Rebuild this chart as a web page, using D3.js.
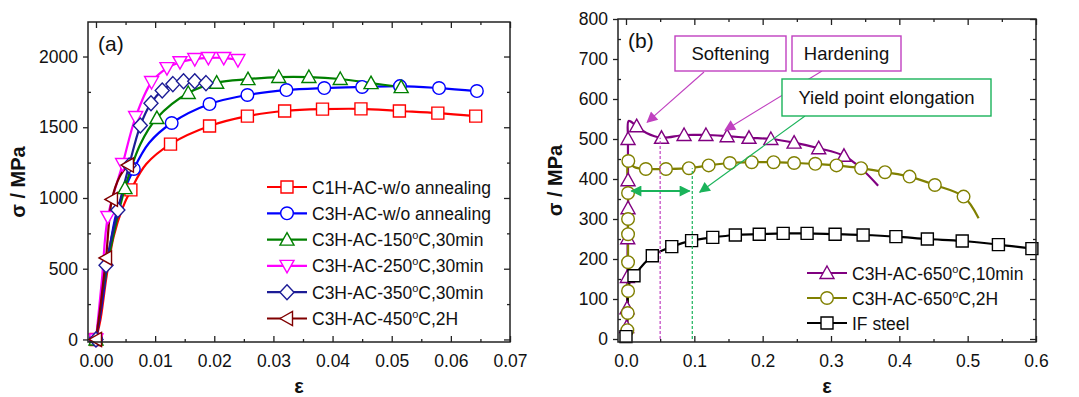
<!DOCTYPE html>
<html>
<head>
<meta charset="utf-8">
<script src="https://cdn.jsdelivr.net/npm/d3@7"></script>
<style>
  body { margin: 0; background: #fff; }
  text { font-family: "Liberation Sans", Arial, sans-serif; }
</style>
</head>
<body>
<svg id="chart" width="1079" height="397"></svg>
<script>
// ---- panel (a) data: [strain, stress MPa, marker?]
var c1hNoAnneal = [[0,0,1],[0.0008,150,0],[0.0018,450,0],[0.003,730,0],[0.0045,930,0],[0.0059,1057,1],[0.0085,1240,0],
  [0.0126,1381,1],[0.0192,1509,1],[0.0256,1579,1],[0.0319,1615,1],[0.0383,1628,1],[0.0448,1630,1],[0.0513,1615,1],[0.0578,1600,1],[0.0642,1579,1]];
var c3hNoAnneal = [[0,0,1],[0.001,250,0],[0.002,550,0],[0.0035,900,0],[0.0064,1205,1],[0.009,1390,0],[0.0128,1530,1],
  [0.0192,1664,1],[0.0256,1728,1],[0.0322,1763,1],[0.0386,1777,1],[0.045,1785,1],[0.0514,1791,1],[0.058,1777,1],[0.0644,1756,1]];
var c3h150 = [[0,0,1],[0.001,300,0],[0.0025,650,0],[0.0049,1070,1],[0.0075,1380,0],[0.0103,1565,1],[0.0156,1742,1],
  [0.0204,1815,1],[0.0257,1840,1],[0.0309,1855,1],[0.036,1855,1],[0.0413,1841,1],[0.0465,1812,1],[0.0516,1784,1]];
var c3h250 = [[0,0,1],[0.001,420,0],[0.002,866,1],[0.0045,1240,1],[0.0067,1572,1],[0.0094,1820,1],[0.012,1918,1],
  [0.0142,1960,1],[0.0167,1982,1],[0.019,1990,1],[0.0216,1990,1],[0.024,1975,1]];
var c3h350 = [[0,0,1],[0.0008,200,0],[0.0017,525,1],[0.0037,915,1],[0.0056,1230,1],[0.0075,1512,1],[0.0093,1670,1],
  [0.0112,1760,1],[0.013,1805,1],[0.0148,1825,1],[0.0167,1825,1],[0.0186,1812,1]];
var c3h450 = [[0,0,1],[0.0008,250,0],[0.0017,576,1],[0.0027,990,1],[0.004,1150,0],[0.0054,1233,1]];

// ---- panel (b) data
var c3h650min = [[0,0,0],[0.001,30,1],[0.0015,77,1],[0.002,155,1],[0.0025,252,1],[0.003,327,1],[0.003,397,1],[0.003,500,1],
  [0.004,545,0],[0.0156,532,1],[0.03,515,0],[0.052,503,1],[0.085,510,1],[0.117,510,1],[0.148,507,1],[0.18,503,1],[0.212,500,1],
  [0.246,491,1],[0.282,477,1],[0.319,458,1],[0.345,425,0],[0.369,383,0]];
var c3h650h = [[0,0,0],[0.002,22,1],[0.0025,65,1],[0.003,120,1],[0.003,192,1],[0.003,262,1],[0.003,300,1],[0.003,365,1],
  [0.0034,445,1],[0.012,430,0],[0.029,425,1],[0.0585,425,1],[0.092,427,1],[0.121,434,1],[0.152,440,1],[0.184,442,1],[0.216,442,1],
  [0.246,440,1],[0.277,438,1],[0.308,434,1],[0.344,427,1],[0.379,417,1],[0.415,406,1],[0.452,385,1],[0.494,356,1],[0.516,302,0]];
var ifSteel = [[0,6,1],[0.002,60,0],[0.003,120,0],[0.005,140,0],[0.0117,158,1],[0.0385,208,1],[0.067,231,1],[0.096,246,1],
  [0.127,254,1],[0.16,260,1],[0.195,262,1],[0.23,264,1],[0.265,264,1],[0.306,262,1],[0.347,260,1],[0.395,256,1],[0.441,250,1],
  [0.492,245,1],[0.545,236,1],[0.594,226,1],[0.6,225,0]];

var seriesA = [
  {name: 'C1H-AC-w/o annealing', data: c1hNoAnneal, color: '#ff0000', mark: 'square'},
  {name: 'C3H-AC-w/o annealing', data: c3hNoAnneal, color: '#0000ff', mark: 'circle'},
  {name: 'C3H-AC-150°C,30min', data: c3h150, color: '#008000', mark: 'up'},
  {name: 'C3H-AC-250°C,30min', data: c3h250, color: '#ff00ff', mark: 'down'},
  {name: 'C3H-AC-350°C,30min', data: c3h350, color: '#1c1c96', mark: 'diamond'},
  {name: 'C3H-AC-450°C,2H', data: c3h450, color: '#800000', mark: 'left'}
];
var seriesB = [
  {name: 'C3H-AC-650°C,10min', data: c3h650min, color: '#800080', mark: 'up'},
  {name: 'C3H-AC-650°C,2H', data: c3h650h, color: '#808000', mark: 'circle'},
  {name: 'IF steel', data: ifSteel, color: '#000000', mark: 'square'}
];

var xTicksA = [0, 0.01, 0.02, 0.03, 0.04, 0.05, 0.06, 0.07];
var yTicksA = [0, 500, 1000, 1500, 2000];
var xTicksB = [0, 0.1, 0.2, 0.3, 0.4, 0.5, 0.6];
var yTicksB = [0, 100, 200, 300, 400, 500, 600, 700, 800];

var svg = d3.select('#chart');
svg.append('rect').attr('width', 1079).attr('height', 397).attr('fill', '#fff');

function markerPath(type) {
  switch (type) {
    case 'square': return 'M-6,-6h12v12h-12Z';
    case 'circle': return 'M-6.3,0a6.3,6.3 0 1,0 12.6,0a6.3,6.3 0 1,0 -12.6,0Z';
    case 'up': return 'M0,-7L7,5.5L-7,5.5Z';
    case 'down': return 'M0,7L7,-5.5L-7,-5.5Z';
    case 'left': return 'M-7,0L5.5,-7L5.5,7Z';
    case 'diamond': return 'M0,-7.5L7,0L0,7.5L-7,0Z';
  }
}

// label with superscript "o" for degree sign
function degText(sel, str) {
  var parts = str.split('°');
  sel.append('tspan').text(parts[0]);
  if (parts.length > 1) {
    sel.append('tspan').attr('font-size', '11px').attr('dy', -7).text('o');
    sel.append('tspan').attr('dy', 7).text(parts[1]);
  }
}

function panel(o) {
  var x = d3.scaleLinear().domain(o.xd).range([o.l, o.r]);
  var y = d3.scaleLinear().domain(o.yd).range([o.b, o.t]);
  var g = svg.append('g');

  var fs = '17.5px';
  g.append('g').attr('transform', 'translate(0,' + o.b + ')')
    .call(d3.axisBottom(x).tickValues(o.xt).tickSize(-6).tickPadding(13).tickFormat(d3.format(o.xf)));
  g.append('g').attr('transform', 'translate(0,' + o.b + ')')
    .call(d3.axisBottom(x).tickValues(o.xm).tickSize(-3).tickFormat(''));
  g.append('g').attr('transform', 'translate(0,' + o.t + ')')
    .call(d3.axisTop(x).tickValues(o.xt).tickSize(-6).tickFormat(''));
  g.append('g').attr('transform', 'translate(0,' + o.t + ')')
    .call(d3.axisTop(x).tickValues(o.xm).tickSize(-3).tickFormat(''));
  g.append('g').attr('transform', 'translate(' + o.l + ',0)')
    .call(d3.axisLeft(y).tickValues(o.yt).tickSize(5).tickPadding(5).tickFormat(d3.format('d')));
  g.append('g').attr('transform', 'translate(' + o.l + ',0)')
    .call(d3.axisLeft(y).tickValues(o.ym).tickSize(-3).tickFormat(''));
  g.append('g').attr('transform', 'translate(' + o.r + ',0)')
    .call(d3.axisRight(y).tickValues(o.yt).tickSize(-6).tickFormat(''));
  g.append('g').attr('transform', 'translate(' + o.r + ',0)')
    .call(d3.axisRight(y).tickValues(o.ym).tickSize(-3).tickFormat(''));
  g.selectAll('.domain').remove();
  g.selectAll('.tick line').attr('stroke', '#222').attr('stroke-width', 1.3);
  g.selectAll('.tick text').attr('font-size', fs).attr('fill', '#111')
    .style('font-family', '"Liberation Sans", Arial, sans-serif');

  // curves
  var line = d3.line().x(function(d) { return x(d[0]); }).y(function(d) { return y(d[1]); })
    .curve(d3.curveCatmullRom.alpha(0.5));
  o.series.forEach(function(s) {
    g.append('path').attr('d', line(s.data)).attr('fill', 'none')
      .attr('stroke', s.color).attr('stroke-width', 2.2);
  });
  o.series.forEach(function(s) {
    g.selectAll(null).data(s.data.filter(function(d) { return d[2]; })).enter()
      .append('path').attr('d', markerPath(s.mark))
      .attr('transform', function(d) { return 'translate(' + x(d[0]) + ',' + y(d[1]) + ')'; })
      .attr('fill', '#fff').attr('stroke', s.color).attr('stroke-width', 1.4);
  });

  if (o.extra) o.extra(g, x, y);

  // frame
  g.append('rect').attr('x', o.l).attr('y', o.t).attr('width', o.r - o.l).attr('height', o.b - o.t)
    .attr('fill', 'none').attr('stroke', '#222').attr('stroke-width', 1.5);

  // legend
  o.series.forEach(function(s, i) {
    var ly = o.legY + i * o.legDy;
    g.append('line').attr('x1', o.legX).attr('x2', o.legX + 40).attr('y1', ly).attr('y2', ly)
      .attr('stroke', s.color).attr('stroke-width', 2.2);
    g.append('path').attr('d', markerPath(s.mark)).attr('transform', 'translate(' + (o.legX + 20) + ',' + ly + ')')
      .attr('fill', '#fff').attr('stroke', s.color).attr('stroke-width', 1.4);
    var t = g.append('text').attr('x', o.legX + 45).attr('y', ly + 6.5).attr('font-size', fs).attr('fill', '#111');
    degText(t, s.name);
  });

  // panel tag and axis titles
  g.append('text').attr('x', o.l + 10).attr('y', o.t + 29).attr('font-size', '21px').attr('fill', '#111').text(o.tag);
  g.append('text').attr('transform', 'translate(' + o.yLabX + ',' + ((o.t + o.b) / 2) + ') rotate(-90)')
    .attr('text-anchor', 'middle').attr('font-size', '20px').attr('font-weight', 'bold').attr('fill', '#111')
    .text('σ / MPa');
  g.append('text').attr('x', (o.l + o.r) / 2).attr('y', 393).attr('text-anchor', 'middle')
    .attr('font-size', '20px').attr('font-weight', 'bold').attr('fill', '#111').text('ε');
}

panel({
  l: 88, r: 510, t: 22, b: 342,
  xd: [-0.00135, 0.07], yd: [-18, 2244],
  xt: xTicksA, xm: d3.range(0.005, 0.07, 0.01), xf: '.2f',
  yt: yTicksA, ym: d3.range(250, 2244, 500),
  series: seriesA, legX: 267, legY: 187, legDy: 26.3, tag: '(a)', yLabX: 25
});

var magenta = '#c040c0', green = '#1ab35a';
panel({
  l: 618, r: 1036, t: 19, b: 342,
  xd: [-0.0117, 0.6], yd: [-7.5, 800],
  xt: xTicksB, xm: d3.range(0.05, 0.6, 0.1), xf: '.1f',
  yt: yTicksB, ym: d3.range(50, 800, 100),
  series: seriesB, legX: 807, legY: 273, legDy: 25, tag: '(b)', yLabX: 562,
  extra: function(g, x, y) {
    // dashed guides
    g.append('line').attr('x1', x(0.05)).attr('x2', x(0.05)).attr('y1', y(0)).attr('y2', y(503))
      .attr('stroke', magenta).attr('stroke-width', 1.2).attr('stroke-dasharray', '3,2');
    g.append('line').attr('x1', x(0.097)).attr('x2', x(0.097)).attr('y1', y(0)).attr('y2', y(427))
      .attr('stroke', green).attr('stroke-width', 1.2).attr('stroke-dasharray', '3,2');

    var defs = svg.append('defs');
    [['hm', magenta], ['hg', green]].forEach(function(a) {
      defs.append('marker').attr('id', a[0]).attr('viewBox', '0 0 10 10').attr('refX', 9).attr('refY', 5)
        .attr('orient', 'auto-start-reverse')
        .attr('markerUnits', 'userSpaceOnUse').attr('markerWidth', 13).attr('markerHeight', 11)
        .append('path').attr('d', 'M0,0L10,5L0,10Z').attr('fill', a[1]);
    });

    // double arrow for yield point elongation
    g.append('line').attr('x1', x(0.008)).attr('x2', x(0.093)).attr('y1', y(370)).attr('y2', y(370))
      .attr('stroke', green).attr('stroke-width', 2.2)
      .attr('marker-start', 'url(#hg)').attr('marker-end', 'url(#hg)');

    var notes = [
      {text: 'Softening', x0: 675, x1: 786, y0: 36, y1: 71, color: magenta, tail: [704, 72], tip: [0.031, 542], id: 'hm'},
      {text: 'Hardening', x0: 792, x1: 901, y0: 36, y1: 71, color: magenta, tail: [822, 71], tip: [0.145, 522], id: 'hm'},
      {text: 'Yield point elongation', x0: 782, x1: 991, y0: 79, y1: 116, color: green, tail: [805, 116], tip: [0.108, 367], id: 'hg'}
    ];
    notes.forEach(function(n) {
      g.append('line').attr('x1', n.tail[0]).attr('y1', n.tail[1]).attr('x2', x(n.tip[0])).attr('y2', y(n.tip[1]))
        .attr('stroke', n.color).attr('stroke-width', 1.1).attr('marker-end', 'url(#' + n.id + ')');
      g.append('rect').attr('x', n.x0).attr('y', n.y0).attr('width', n.x1 - n.x0).attr('height', n.y1 - n.y0)
        .attr('fill', '#fff').attr('stroke', n.color).attr('stroke-width', 1.4);
      g.append('text').attr('x', (n.x0 + n.x1) / 2).attr('y', (n.y0 + n.y1) / 2 + 6.5).attr('text-anchor', 'middle')
        .attr('font-size', '18.5px').attr('fill', '#111').text(n.text);
    });
  }
});
</script>
</body>
</html>
